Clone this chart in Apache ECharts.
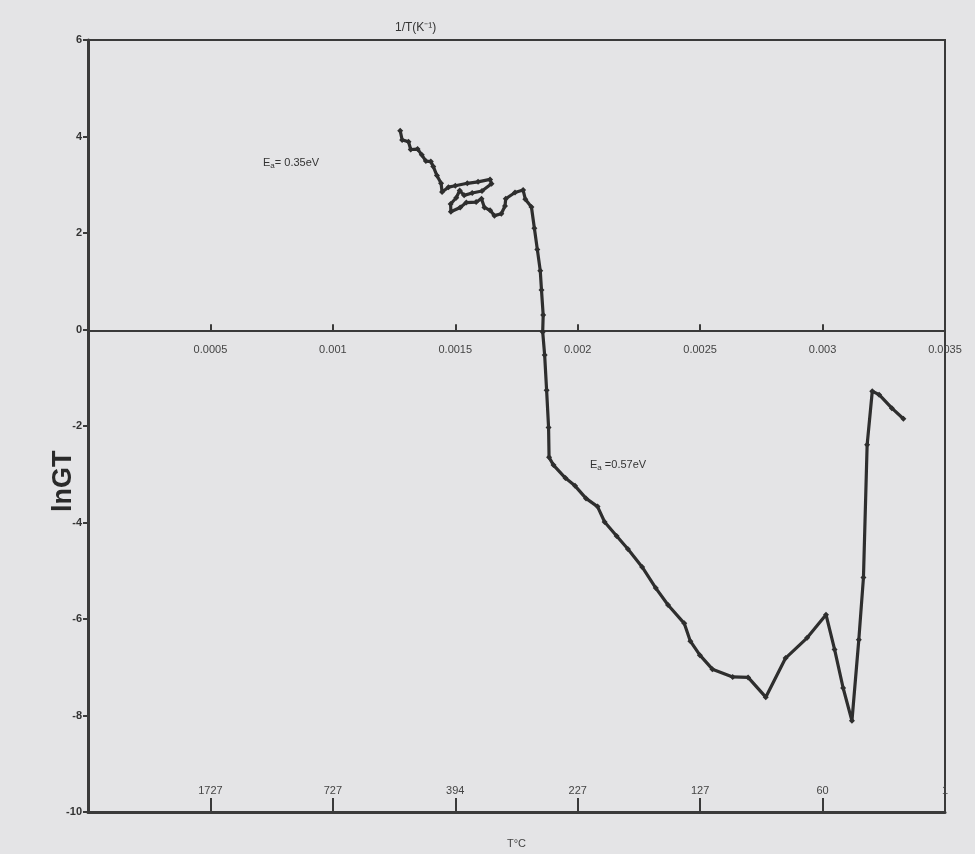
<!DOCTYPE html>
<html>
<head>
<meta charset="utf-8">
<script src="https://cdn.jsdelivr.net/npm/echarts@6/dist/echarts.min.js"></script>
<style>
html,body{margin:0;padding:0;background:#e4e4e6;}
#chart{width:975px;height:854px;}
</style>
</head>
<body>
<div id="chart"></div>
<script>
// 1/T (K^-1) values
const invT = [
  0.001275,0.001283,0.001309,0.001318,0.001346,0.001363,0.00138,0.0014,0.00141,0.001425,
  0.001442,0.001446,0.001472,0.0015,0.001549,0.001593,0.001642,0.001648,0.001609,0.001569,
  0.001536,0.001518,0.001504,0.001481,0.001482,0.00152,0.001545,0.001585,0.001607,0.001619,
  0.001642,0.00166,0.001688,0.001703,0.001706,0.001744,0.001777,0.001786,0.001811,0.001823,
  0.001835,0.001847,0.001852,0.001859,0.001857,0.001865,0.001873,0.001881,0.001883,0.001901,
  0.00195,0.001989,0.002034,0.002081,0.00211,0.002159,0.002205,0.002263,0.002319,0.002369,
  0.002435,0.00246,0.002499,0.00255,0.002633,0.002696,0.002768,0.002849,0.002937,0.003014,
  0.003049,0.003084,0.00312,0.003148,0.003167,0.003182,0.003203,0.003231,0.003283,0.00333
];
// lnGT values
const lnGT = [
  4.12,3.93,3.89,3.73,3.74,3.62,3.49,3.48,3.38,3.19,
  3.03,2.85,2.95,2.98,3.03,3.06,3.11,3.02,2.87,2.83,
  2.78,2.88,2.73,2.60,2.44,2.53,2.63,2.64,2.71,2.53,
  2.47,2.36,2.40,2.56,2.71,2.84,2.89,2.70,2.54,2.10,
  1.66,1.22,0.82,0.30,-0.05,-0.53,-1.26,-2.03,-2.65,-2.81,
  -3.08,-3.24,-3.50,-3.67,-3.99,-4.28,-4.55,-4.92,-5.36,-5.71,
  -6.09,-6.46,-6.75,-7.04,-7.20,-7.21,-7.62,-6.81,-6.39,-5.91,
  -6.63,-7.43,-8.11,-6.43,-5.14,-2.39,-1.28,-1.35,-1.63,-1.85
];
// temperature (°C) tick labels for the bottom axis, at 1/T = 0.0005 ... 0.0035
const tempTicks = [0.0005,0.001,0.0015,0.002,0.0025,0.003,0.0035];
const tempLabels = ['1727','727','394','227','127','60','1'];
// annotations
const annotations = ['0.35eV','0.57eV'];

const FONT = "'Liberation Sans Narrow','Liberation Sans',Arial,sans-serif";
const INK = '#2e2e2e';
const Y_MIN = -10, Y_MAX = 6;
const GRID_TOP = 40, GRID_BOTTOM = 40, H = 854;
// the 1/T axis sits on lnGT = 0: a helper grid whose lower edge is that line
const plotH = H - GRID_TOP - GRID_BOTTOM;
const zeroY = GRID_TOP + plotH * (Y_MAX - 0) / (Y_MAX - Y_MIN);

const chart = echarts.init(document.getElementById('chart'));
const pts = invT.map((x,i)=>[x, lnGT[i]]);

chart.setOption({
  backgroundColor:'#e4e4e6',
  animation:false,
  grid:[
    {left:88,right:30,top:GRID_TOP,bottom:GRID_BOTTOM,show:true,borderColor:'#3a3a3a',borderWidth:2,backgroundColor:'transparent'},
    {left:88,right:30,top:GRID_TOP,bottom:H - zeroY,show:false}
  ],
  xAxis:[
    {
      gridIndex:0,type:'value',min:0,max:0.0035,interval:0.0005,position:'bottom',
      name:'T°C',nameLocation:'middle',nameGap:26,
      nameTextStyle:{fontSize:11,color:'#444',fontFamily:FONT},
      axisLine:{show:true,onZero:false,lineStyle:{color:'#3a3a3a',width:3}},
      axisTick:{show:true,inside:true,length:14,lineStyle:{color:'#3a3a3a',width:2}},
      axisLabel:{inside:true,margin:16,fontSize:11,color:'#444',fontFamily:FONT,showMaxLabel:true,
        formatter:v=>{
          const i = tempTicks.findIndex(t=>Math.abs(t-v)<1e-7);
          return i>=0 ? tempLabels[i] : '';
        }},
      splitLine:{show:false}
    },
    {
      gridIndex:1,type:'value',min:0,max:0.0035,interval:0.0005,position:'bottom',
      axisLine:{show:true,onZero:false,lineStyle:{color:'#3a3a3a',width:2}},
      axisTick:{show:true,inside:true,length:6,lineStyle:{color:'#3a3a3a',width:2}},
      axisLabel:{margin:14,fontSize:11,color:'#444',fontFamily:FONT,showMaxLabel:true,
        formatter:v=> v===0 ? '' : String(+v.toFixed(4))},
      splitLine:{show:false}
    }
  ],
  yAxis:[
    {
      gridIndex:0,type:'value',min:Y_MIN,max:Y_MAX,interval:2,
      axisLine:{show:true,onZero:false,lineStyle:{color:'#3a3a3a',width:3}},
      axisTick:{show:true,length:5,lineStyle:{color:'#3a3a3a',width:2}},
      axisLabel:{fontSize:11,fontWeight:'bold',color:'#333',margin:6,fontFamily:FONT},
      splitLine:{show:false}
    },
    {
      gridIndex:1,type:'value',min:0,max:Y_MAX,show:false
    }
  ],
  series:[{
    type:'line',xAxisIndex:0,yAxisIndex:0,data:pts,
    symbol:'diamond',symbolSize:6,showSymbol:true,
    lineStyle:{color:INK,width:3.2},
    itemStyle:{color:INK}
  }],
  graphic:[
    {type:'text',left:395,top:22,style:{text:'1/T(K⁻¹)',font:"12px "+FONT,fill:'#333'}},
    {type:'text',x:50,y:512,rotation:Math.PI/2,style:{text:'lnGT',font:"bold 27px 'Liberation Sans',Arial,sans-serif",fill:'#2a2a2a'}},
    {type:'text',left:263,top:157,style:{text:'{e|E}{s|a}{e|= '+annotations[0]+'}',
      rich:{e:{fontSize:11,fontFamily:FONT,fill:'#333'},s:{fontSize:8,fontFamily:FONT,fill:'#333',padding:[6,0,0,0]}}}},
    {type:'text',left:590,top:459,style:{text:'{e|E}{s|a}{e| ='+annotations[1]+'}',
      rich:{e:{fontSize:11,fontFamily:FONT,fill:'#333'},s:{fontSize:8,fontFamily:FONT,fill:'#333',padding:[6,0,0,0]}}}}
  ]
});
</script>
</body>
</html>
